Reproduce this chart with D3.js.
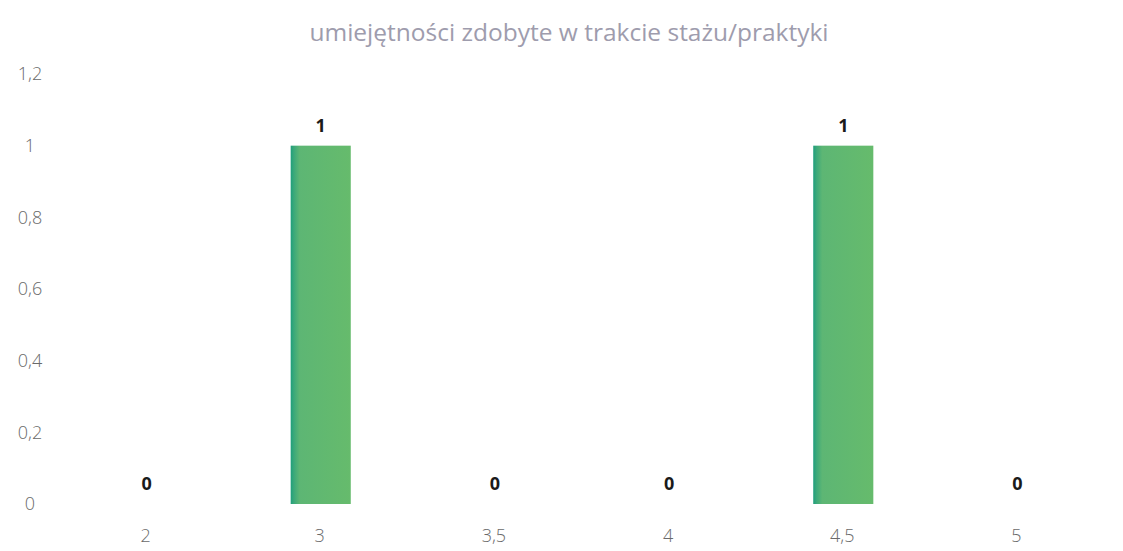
<!DOCTYPE html>
<html><head><meta charset="utf-8">
<script src="https://cdn.jsdelivr.net/npm/d3@7"></script>
<style>body{margin:0;background:#fff;} svg{display:block;}</style>
</head><body>
<script>
const categories = ["2", "3", "3,5", "4", "4,5", "5"];
const values = [0, 1, 0, 0, 1, 0];
const yTicks = [0, 0.2, 0.4, 0.6, 0.8, 1, 1.2];
const title = "umiejętności zdobyte w trakcie stażu/praktyki";

const W = 1123, H = 551;
const svg = d3.select("body").append("svg").attr("width", W).attr("height", H);
const defs = svg.append("defs");
const g = defs.append("linearGradient").attr("id", "barg").attr("x1", "0").attr("x2", "1").attr("y1", "0").attr("y2", "0");
g.append("stop").attr("offset", "0").attr("stop-color", "#1f9e7c");
g.append("stop").attr("offset", "0.05").attr("stop-color", "#3aa87a");
g.append("stop").attr("offset", "0.15").attr("stop-color", "#5db674");
g.append("stop").attr("offset", "1").attr("stop-color", "#66bb6c");

const x = d3.scaleBand().domain(categories).range([58, 1104]).paddingInner(0.655).paddingOuter(0.33);
const y = d3.scaleLinear().domain([0, 1.2]).range([504, 74]);
const fmt = v => d3.format(".1f")(v).replace(".", ",").replace(/,0$/, "");

svg.append("text").attr("x", 569).attr("y", 41).attr("text-anchor", "middle")
  .attr("font-family", "Open Sans, Lato, sans-serif").attr("font-size", 24.5)
  .attr("fill", "#9e9cad").text(title);

const yAxis = d3.axisLeft(y).tickValues(yTicks).tickFormat(fmt).tickSize(0).tickPadding(0);
const ya = svg.append("g").attr("transform", "translate(42,0)").call(yAxis);
ya.select(".domain").remove();
ya.selectAll("text").attr("font-family", "Open Sans, Lato, sans-serif").attr("font-size", 18)
  .attr("fill", "#6a6a6a").attr("font-weight", 300).attr("text-anchor", "middle").attr("dx", -12);

const xAxis = d3.axisBottom(x).tickSize(0).tickPadding(0);
const xa = svg.append("g").attr("transform", "translate(0,526)").call(xAxis);
xa.select(".domain").remove();
xa.selectAll("text").attr("font-family", "Open Sans, Lato, sans-serif").attr("font-size", 18)
  .attr("fill", "#6a6a6a").attr("font-weight", 300).attr("dy", "0.9em");

svg.selectAll("rect.bar").data(values).enter().append("rect").attr("class", "bar")
  .attr("x", (d, i) => x(categories[i]) + 1).attr("width", x.bandwidth())
  .attr("y", d => y(d)).attr("height", d => y(0) - y(d))
  .attr("fill", "url(#barg)");

svg.selectAll("text.lbl").data(values).enter().append("text").attr("class", "lbl")
  .attr("x", (d, i) => x(categories[i]) + x.bandwidth() / 2 + 1)
  .attr("y", d => y(d) - 14)
  .attr("text-anchor", "middle").attr("font-family", "Open Sans, Lato, sans-serif")
  .attr("font-weight", 700).attr("font-size", 18).attr("fill", "#1a1a1a")
  .text(d => d);
</script>
</body></html>
